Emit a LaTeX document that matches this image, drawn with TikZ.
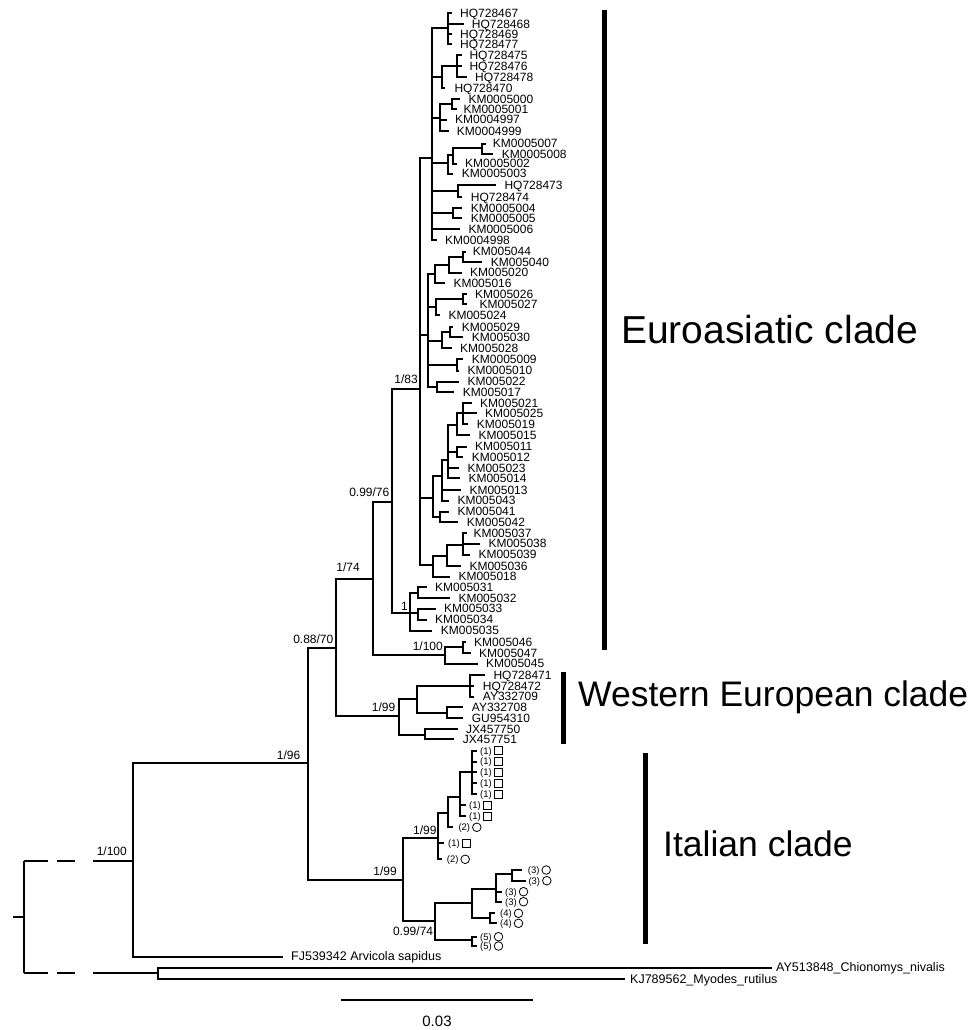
\documentclass[tikz,border=0pt]{standalone}
\usepackage{fontspec}
\setmainfont{Liberation Sans}
\newcommand\lf[5]{\coordinate (#1) at (#2,#4); \node[lab] (#1l) at (#3,#4) {#5};}
\newcommand\ed[2]{\foreach \cc in {#2}{\draw[br] (#1) |- (\cc);}}
\newcommand\itl[6]{\coordinate (#1) at (#2,#3); \node[sml] (#1l) at (#4,#3) {(#5)}; \node[#6] (#1s) at (#4+18.5,#3) {};}
\begin{document}
\begin{tikzpicture}[x=1pt,y=-1pt,
  br/.style={line width=2pt},
  lab/.style={anchor=west,inner sep=0pt,font=\fontsize{12}{12}\selectfont,text height=8.4pt,text depth=0pt},
  sup/.style={anchor=base east,inner sep=0pt,font=\fontsize{12}{12}\selectfont},
  sml/.style={anchor=west,inner sep=0pt,font=\fontsize{9.5}{9.5}\selectfont,text height=6.6pt,text depth=0pt},
  sq/.style={draw,line width=0.8pt,minimum size=8pt,inner sep=0pt},
  ci/.style={draw,circle,line width=0.8pt,minimum size=8.6pt,inner sep=0pt},
  cbar/.style={line width=5pt},
  cladelab/.style={anchor=west,inner sep=0pt,text height=0.72em,text depth=0pt},
  rootdash/.style={line width=2pt,dash pattern=on 24pt off 8.4pt on 18.3pt off 17.7pt on 200pt}]
\useasboundingbox (0,0) rectangle (968,1030);
% ---------- root and outgroups
\coordinate (root) at (13,916.7);
\coordinate (r0) at (24.3,916.7);
\coordinate (rup) at (24.3,860.7);
\coordinate (rdn) at (24.3,973.3);
\draw[br] (root) -- (r0);
\draw[br] (rup) -- (rdn);
\coordinate (n100) at (133.3,860.7);
\coordinate (og) at (158.3,973.3);
\draw[rootdash] (rup) -- (n100);
\draw[rootdash] (rdn) -- (og);
\coordinate (chio) at (772,967.7);
\coordinate (myo) at (625,979);
\ed{og}{chio,myo}
\node[lab,font=\fontsize{12.5}{12.5}\selectfont] (chiol) at (776,967.7) {AY513848\_Chionomys\_nivalis};
\node[lab,font=\fontsize{12.5}{12.5}\selectfont] (myol) at (630,979) {KJ789562\_Myodes\_rutilus};
\coordinate (fj) at (282.7,956.7);
\node[lab,font=\fontsize{12.5}{12.5}\selectfont] (fjl) at (291,956.7) {FJ539342 Arvicola sapidus};
% ---------- backbone
\coordinate (n96) at (307.7,763.3);
\coordinate (n88) at (335.7,648.3);
\coordinate (it1) at (403.3,880);
\coordinate (n74) at (373.3,579);
\coordinate (w1) at (399.3,716);
\coordinate (n76) at (391.7,501.7);
\coordinate (n100b) at (445,655);
\coordinate (n83) at (420,389);
\coordinate (e5) at (410,613.3);
\ed{n100}{n96,fj}
\ed{n96}{n88,it1}
\ed{n88}{n74,w1}
\ed{n74}{n76,n100b}
\ed{n76}{n83,e5}
% ---------- Euroasiatic internal nodes
\coordinate (e1) at (432.3,158.3);
\coordinate (e2) at (428.3,335);
\coordinate (e3c) at (433.3,498.3);
\coordinate (e4) at (433.3,565);
\ed{n83}{e1,e2,e3c,e4}
\coordinate (a1) at (448.3,28.3);
\coordinate (b) at (441.7,77);
\coordinate (b1) at (456.7,66);
\coordinate (c) at (440,118);
\coordinate (c1) at (451.7,104);
\coordinate (d3) at (448.3,163.3);
\coordinate (d2) at (453.3,155);
\coordinate (d1) at (481.7,148.3);
\coordinate (h) at (458.3,191);
\coordinate (k) at (453.3,213.3);
\coordinate (g1) at (435,274);
\coordinate (g1a) at (449.3,265);
\coordinate (g1b) at (462.7,257);
\coordinate (g2) at (436,307);
\coordinate (g2a) at (462.7,299);
\coordinate (g3) at (441.7,341);
\coordinate (g3a) at (450,332);
\coordinate (g4) at (456.7,365);
\coordinate (g5) at (436.7,386.7);
\coordinate (e3b) at (441.7,476);
\coordinate (e3a) at (448.3,460);
\coordinate (e3a1) at (456.7,425);
\coordinate (e3a2) at (463.3,413.3);
\coordinate (e3a3) at (457.3,451.7);
\coordinate (e3d) at (440,516.7);
\coordinate (e4a) at (446.7,556);
\coordinate (e4b) at (462.7,545);
\coordinate (e5a) at (418.3,592.7);
\coordinate (e5b) at (418.3,613.3);
\coordinate (sub) at (463.3,646.7);
% ---------- leaves
\lf{L1}{452}{460}{13.3}{HQ728467}
\lf{L2}{464}{471.7}{24}{HQ728468}
\lf{L3}{452}{460}{34}{HQ728469}
\lf{L4}{452}{460}{44.3}{HQ728477}
\lf{L5}{461.7}{469.3}{55}{HQ728475}
\lf{L6}{461.7}{469.3}{66}{HQ728476}
\lf{L7}{466.7}{475}{77.3}{HQ728478}
\lf{L8}{445}{454.3}{88.3}{HQ728470}
\lf{L9}{460}{468.3}{99}{KM0005000}
\lf{L10}{456.7}{463.3}{109.3}{KM0005001}
\lf{L11}{447}{455}{119.7}{KM0004997}
\lf{L12}{448.7}{456.7}{131}{KM0004999}
\lf{L13}{486}{492.7}{143.6}{KM0005007}
\lf{L14}{493}{501.7}{153.8}{KM0005008}
\lf{L15}{456.5}{465}{163.6}{KM0005002}
\lf{L16}{453}{461.7}{173.6}{KM0005003}
\lf{L17}{496}{504.3}{185}{HQ728473}
\lf{L18}{462}{470.7}{197.3}{HQ728474}
\lf{L19}{462}{470.7}{208.3}{KM0005004}
\lf{L20}{462}{470.7}{218.3}{KM0005005}
\lf{L21}{460}{468.3}{229}{KM0005006}
\lf{L22}{436.5}{445}{240}{KM0004998}
\lf{L23}{466}{472.7}{251.7}{KM005044}
\lf{L24}{482}{490.7}{262.3}{KM005040}
\lf{L25}{461.5}{470}{272.7}{KM005020}
\lf{L26}{445}{453.3}{283.3}{KM005016}
\lf{L27}{466.7}{475}{294}{KM005026}
\lf{L28}{466.7}{479.3}{304}{KM005027}
\lf{L29}{440}{448.3}{315}{KM005024}
\lf{L30}{453}{461.7}{327}{KM005029}
\lf{L31}{463}{471.7}{337}{KM005030}
\lf{L32}{451.5}{460}{348}{KM005028}
\lf{L33}{463}{471.7}{359}{KM0005009}
\lf{L34}{459}{467.3}{370.7}{KM0005010}
\lf{L35}{459}{467.3}{381.7}{KM005022}
\lf{L36}{454}{462.7}{392.3}{KM005017}
\lf{L37}{471.5}{480}{403}{KM005021}
\lf{L38}{476.5}{485}{413.3}{KM005025}
\lf{L39}{468}{476.7}{424}{KM005019}
\lf{L40}{470}{478.3}{435}{KM005015}
\lf{L41}{466.5}{475}{446.7}{KM005011}
\lf{L42}{463}{471.7}{457.3}{KM005012}
\lf{L43}{459}{467.3}{468.3}{KM005023}
\lf{L44}{460}{468.3}{478.3}{KM005014}
\lf{L45}{461}{469.3}{490}{KM005013}
\lf{L46}{449}{457.3}{500.7}{KM005043}
\lf{L47}{449}{457.3}{511.7}{KM005041}
\lf{L48}{458}{466.7}{522.3}{KM005042}
\lf{L49}{466.7}{473.3}{533.3}{KM005037}
\lf{L50}{480}{488.3}{543.7}{KM005038}
\lf{L51}{470}{478.3}{554.5}{KM005039}
\lf{L52}{461}{469.3}{566}{KM005036}
\lf{L53}{450}{458.3}{576.7}{KM005018}
\lf{L54}{426.5}{435}{587.3}{KM005031}
\lf{L55}{450}{458.3}{598}{KM005032}
\lf{L56}{435.5}{444}{608.7}{KM005033}
\lf{L57}{426.5}{435}{619.7}{KM005034}
\lf{L58}{432}{440.7}{630.7}{KM005035}
\lf{L59}{465.5}{474}{642}{KM005046}
\lf{L60}{470.5}{479}{653}{KM005047}
\lf{L61}{477.5}{486}{663.7}{KM005045}
\lf{L62}{485}{493.3}{675}{HQ728471}
\lf{L63}{474}{482.7}{686}{HQ728472}
\lf{L64}{474}{482.7}{696.7}{AY332709}
\lf{L65}{463}{471.7}{707.3}{AY332708}
\lf{L66}{463}{471.7}{718.3}{GU954310}
\lf{L67}{457.5}{466}{729.3}{JX457750}
\lf{L68}{454}{462.7}{739.3}{JX457751}
% ---------- Euroasiatic edges
\ed{e1}{a1,b,c,d3,h,k,L21,L22}
\ed{a1}{L1,L2,L3,L4}
\ed{b}{b1,L8}
\ed{b1}{L5,L6,L7}
\ed{c}{c1,L11,L12}
\ed{c1}{L9,L10}
\ed{d3}{d2,L16}
\ed{d2}{d1,L15}
\ed{d1}{L13,L14}
\ed{h}{L17,L18}
\ed{k}{L19,L20}
\ed{e2}{g1,g2,g3,g4,g5}
\ed{g1}{g1a,L26}
\ed{g1a}{g1b,L25}
\ed{g1b}{L23,L24}
\ed{g2}{g2a,L29}
\ed{g2a}{L27,L28}
\ed{g3}{g3a,L32}
\ed{g3a}{L30,L31}
\ed{g4}{L33,L34}
\ed{g5}{L35,L36}
\ed{e3c}{e3b,e3d}
\ed{e3b}{e3a,L45,L46}
\ed{e3a}{e3a1,e3a3,L43,L44}
\ed{e3a1}{e3a2,L40}
\ed{e3a2}{L37,L38,L39}
\ed{e3a3}{L41,L42}
\ed{e3d}{L47,L48}
\ed{e4}{e4a,L53}
\ed{e4a}{e4b,L52}
\ed{e4b}{L49,L50,L51}
\ed{e5}{e5a,e5b,L58}
\ed{e5a}{L54,L55}
\ed{e5b}{L56,L57}
\ed{n100b}{sub,L61}
\ed{sub}{L59,L60}
% ---------- Western clade
\coordinate (w2) at (416.7,699);
\coordinate (w2a) at (470,686);
\coordinate (w2b) at (446.7,712.7);
\coordinate (w3) at (425,735);
\ed{w1}{w2,w3}
\ed{w2}{w2a,w2b}
\ed{w2a}{L62,L63,L64}
\ed{w2b}{L65,L66}
\ed{w3}{L67,L68}
% ---------- Italian clade
\coordinate (it2) at (438.3,838);
\coordinate (it3) at (448.3,813.3);
\coordinate (it4) at (460,796.7);
\coordinate (it5) at (471.7,772);
\coordinate (it6) at (435,921);
\coordinate (it7) at (471.7,903.3);
\coordinate (it8) at (496,889.3);
\coordinate (it9) at (490,918.3);
\coordinate (it10) at (511.7,874.3);
\coordinate (it11) at (471.7,940);
\itl{I1}{476.7}{750.7}{480}{1}{sq}
\itl{I2}{476.7}{761.5}{480}{1}{sq}
\itl{I3}{476.7}{772.3}{480}{1}{sq}
\itl{I4}{476.7}{783}{480}{1}{sq}
\itl{I5}{476.7}{794}{480}{1}{sq}
\itl{I7}{466}{805}{469}{1}{sq}
\itl{I8}{466}{816}{469}{1}{sq}
\itl{I9}{453.3}{827.3}{458.3}{2}{ci}
\itl{I12}{444}{843.3}{448}{1}{sq}
\itl{I13}{442}{859.3}{446.7}{2}{ci}
\itl{I14}{521.7}{870}{527.7}{3}{ci}
\itl{I15}{526}{880.7}{528.3}{3}{ci}
\itl{I16}{501.7}{891.7}{505}{3}{ci}
\itl{I17}{501.7}{901.7}{505}{3}{ci}
\itl{I18}{495}{913.3}{500}{4}{ci}
\itl{I19}{496.7}{923.3}{500}{4}{ci}
\itl{I20}{476.7}{936.7}{480}{5}{ci}
\itl{I21}{476.7}{946}{480}{5}{ci}
\ed{it1}{it2,it6}
\ed{it2}{it3,I12,I13}
\ed{it3}{it4,I9}
\ed{it4}{it5,I7,I8}
\ed{it5}{I1,I2,I3,I4,I5}
\ed{it6}{it7,it11}
\ed{it7}{it8,it9}
\ed{it8}{it10,I16,I17}
\ed{it10}{I14,I15}
\ed{it9}{I18,I19}
\ed{it11}{I20,I21}
% ---------- support values
\node[sup] (s83) at (418,383) {1/83};
\node[sup] (s76) at (389.5,496) {0.99/76};
\node[sup] (s74) at (360,571) {1/74};
\node[sup] (s70) at (333.5,643.5) {0.88/70};
\node[sup] (s100b) at (443,650) {1/100};
\node[sup] (s1) at (408,610.5) {1};
\node[sup] (s99w) at (395.5,711.7) {1/99};
\node[sup] (s96) at (300.5,759.3) {1/96};
\node[sup] (s100) at (127,855) {1/100};
\node[sup] (s99a) at (436.7,834) {1/99};
\node[sup] (s99b) at (397,875) {1/99};
\node[sup] (s74b) at (433.3,935) {0.99/74};
% ---------- clade bars and labels
\coordinate (eb1) at (604,10); \coordinate (eb2) at (604,650);
\draw[cbar] (eb1) -- (eb2);
\coordinate (wb1) at (563,672); \coordinate (wb2) at (563,744);
\draw[cbar] (wb1) -- (wb2);
\coordinate (ib1) at (645,753); \coordinate (ib2) at (645,944);
\draw[cbar] (ib1) -- (ib2);
\node[cladelab,font=\fontsize{39}{39}\selectfont] (eul) at (621,340) {Euroasiatic clade};
\node[cladelab,font=\fontsize{35.5}{35.5}\selectfont] (wel) at (578,703) {Western European clade};
\node[cladelab,font=\fontsize{35.5}{35.5}\selectfont] (itl) at (663,853) {Italian clade};
% ---------- scale bar
\coordinate (sb1) at (341,1000); \coordinate (sb2) at (533,1000);
\draw[line width=2pt] (sb1) -- (sb2);
\node[inner sep=0pt,font=\fontsize{15}{15}\selectfont] (sbl) at (437,1021) {0.03};
\end{tikzpicture}
\end{document}
